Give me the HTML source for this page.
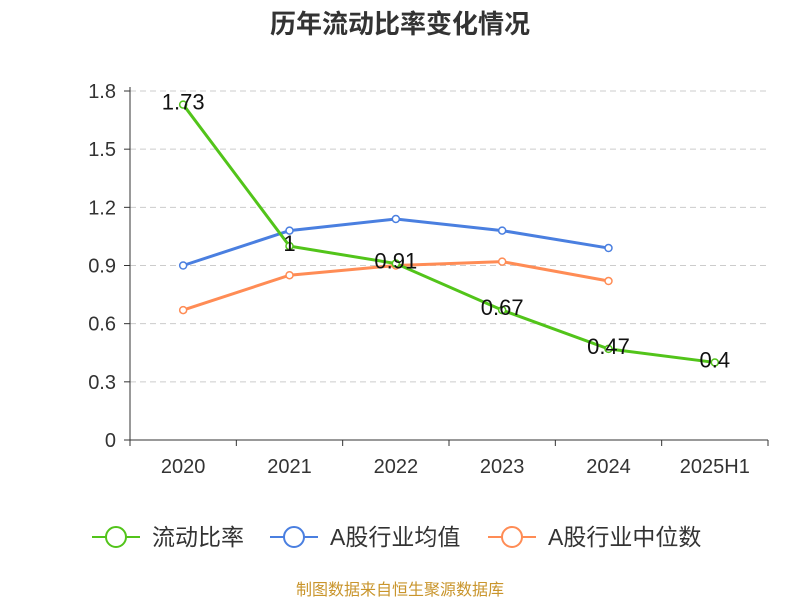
<!DOCTYPE html>
<html><head><meta charset="utf-8"><style>
body{margin:0;background:#fff;width:800px;height:600px;overflow:hidden}
svg{font-family:"Liberation Sans","Noto Sans CJK SC",sans-serif}
</style></head><body>
<svg id="c" width="800" height="600">
<text x="400" y="33" text-anchor="middle" font-size="26" font-weight="bold" fill="#333">历年流动比率变化情况</text>
<g id="grid"></g><g id="axes"></g><g id="series"></g>
<g>
<g><line x1="92" y1="537" x2="140" y2="537" stroke="#52c41a" stroke-width="2"/><circle cx="116" cy="537" r="10" fill="#fff" stroke="#52c41a" stroke-width="2"/><text x="152" y="545" font-size="23" fill="#333">流动比率</text></g>
<g><line x1="270" y1="537" x2="318" y2="537" stroke="#4a7fe0" stroke-width="2"/><circle cx="294" cy="537" r="10" fill="#fff" stroke="#4a7fe0" stroke-width="2"/><text x="330" y="545" font-size="23" fill="#333">A股行业均值</text></g>
<g><line x1="488" y1="537" x2="536" y2="537" stroke="#ff8c55" stroke-width="2"/><circle cx="512" cy="537" r="10" fill="#fff" stroke="#ff8c55" stroke-width="2"/><text x="548" y="545" font-size="23" fill="#333">A股行业中位数</text></g>
</g>
<text x="400" y="595" text-anchor="middle" font-size="16" fill="#c9952c">制图数据来自恒生聚源数据库</text>
</svg>
<script>
const categories=["2020","2021","2022","2023","2024","2025H1"];
const ratio=[1.73,1.0,0.91,0.67,0.47,0.4];
const ratioLabels=["1.73","1","0.91","0.67","0.47","0.4"];
const industryAvg=[0.9,1.08,1.14,1.08,0.99];
const industryMedian=[0.67,0.85,0.9,0.92,0.82];
const yTicks=[0,0.3,0.6,0.9,1.2,1.5,1.8];
const tickLabels=["0","0.3","0.6","0.9","1.2","1.5","1.8"];
const NS="http://www.w3.org/2000/svg";
const x0=130,x1=768,y0=440,y1=91;
const bw=(x1-x0)/categories.length;
const X=i=>x0+bw*(i+0.5);
const Y=v=>y0-(v/1.8)*(y0-y1);
function mk(t,a,p){const e=document.createElementNS(NS,t);for(const k in a)e.setAttribute(k,a[k]);p.appendChild(e);return e;}
const grid=document.getElementById('grid'),axes=document.getElementById('axes'),ser=document.getElementById('series');
yTicks.forEach((v,i)=>{
 if(v>0){const l=mk('line',{x1:x0,x2:x1,y1:Y(v),y2:Y(v),stroke:'#ccc','stroke-dasharray':'6,4'},grid);
 
 }
 mk('line',{x1:x0-6,x2:x0,y1:Y(v),y2:Y(v),stroke:'#333'},axes);
 const t=mk('text',{x:x0-14,y:Y(v)+7,'text-anchor':'end','font-size':20,fill:'#333'},axes);t.textContent=tickLabels[i];
 
 
});
mk('line',{x1:x0,x2:x0,y1:y1-4,y2:y0,stroke:'#333'},axes);
mk('line',{x1:x0,x2:x1,y1:y0,y2:y0,stroke:'#333'},axes);
for(let i=0;i<=categories.length;i++)mk('line',{x1:x0+bw*i,x2:x0+bw*i,y1:y0,y2:y0+6,stroke:'#333'},axes);
categories.forEach((c,i)=>{const t=mk('text',{x:X(i),y:y0+33,'text-anchor':'middle','font-size':20,fill:'#333'},axes);t.textContent=c;
 
 });
function line(data,color,name){
 const g=mk('g',{},ser);
 
 
 mk('polyline',{points:data.map((v,i)=>X(i)+','+Y(v)).join(' '),fill:'none',stroke:color,'stroke-width':3},g);
 data.forEach((v,i)=>{const c=mk('circle',{cx:X(i),cy:Y(v),r:3.5,fill:'#fff',stroke:color,'stroke-width':1.5},g);
  
  });
}
line(industryAvg,'#4a7fe0','industry-average-line');
line(industryMedian,'#ff8c55','industry-median-line');
line(ratio,'#52c41a','current-ratio-line');
ratio.forEach((v,i)=>{const t=mk('text',{x:X(i),y:Y(v)+5,'text-anchor':'middle','font-size':22,fill:'#111'},ser);t.textContent=ratioLabels[i];
 
 });
</script>
</body></html>
